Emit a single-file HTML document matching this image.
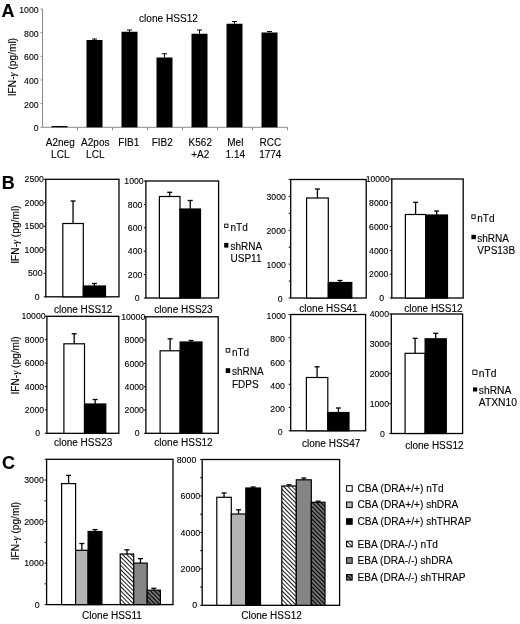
<!DOCTYPE html>
<html><head><meta charset="utf-8"><style>
html,body{margin:0;padding:0;background:#fff;width:520px;height:624px;overflow:hidden}
svg{display:block;will-change:transform;filter:blur(0.3px)}
text{font-family:"Liberation Sans", sans-serif;stroke:#000;stroke-width:0.12px}
</style></head><body>
<svg width="520" height="624" viewBox="0 0 520 624" font-family='"Liberation Sans", sans-serif'><defs>
<pattern id="hw" patternUnits="userSpaceOnUse" width="3" height="3" patternTransform="rotate(-45)">
<rect width="3" height="3" fill="#fff"/><rect width="0.9" height="3" fill="#000"/></pattern>
<pattern id="hd" patternUnits="userSpaceOnUse" width="3" height="3" patternTransform="rotate(-45)">
<rect width="3" height="3" fill="#707070"/><rect width="1" height="3" fill="#000"/></pattern>
</defs><text x="1.6" y="16.5" font-size="18" text-anchor="start" font-weight="bold" fill="#000">A</text>
<line x1="42.5" y1="9.0" x2="42.5" y2="127.3" stroke="#8a8a8a" stroke-width="1"/>
<line x1="42.5" y1="127.3" x2="287.5" y2="127.3" stroke="#8a8a8a" stroke-width="1"/>
<line x1="40.5" y1="127.3" x2="42.5" y2="127.3" stroke="#8a8a8a" stroke-width="1"/>
<text x="38.6" y="131.2" font-size="8.7" text-anchor="end" font-weight="normal" fill="#000">0</text>
<line x1="40.5" y1="103.64" x2="42.5" y2="103.64" stroke="#8a8a8a" stroke-width="1"/>
<text x="38.6" y="107.54" font-size="8.7" text-anchor="end" font-weight="normal" fill="#000">200</text>
<line x1="40.5" y1="79.97999999999999" x2="42.5" y2="79.97999999999999" stroke="#8a8a8a" stroke-width="1"/>
<text x="38.6" y="83.88" font-size="8.7" text-anchor="end" font-weight="normal" fill="#000">400</text>
<line x1="40.5" y1="56.31999999999999" x2="42.5" y2="56.31999999999999" stroke="#8a8a8a" stroke-width="1"/>
<text x="38.6" y="60.21999999999999" font-size="8.7" text-anchor="end" font-weight="normal" fill="#000">600</text>
<line x1="40.5" y1="32.66" x2="42.5" y2="32.66" stroke="#8a8a8a" stroke-width="1"/>
<text x="38.6" y="36.559999999999995" font-size="8.7" text-anchor="end" font-weight="normal" fill="#000">800</text>
<line x1="40.5" y1="9.0" x2="42.5" y2="9.0" stroke="#8a8a8a" stroke-width="1"/>
<text x="38.6" y="12.9" font-size="8.7" text-anchor="end" font-weight="normal" fill="#000">1000</text>
<line x1="77.5" y1="127.3" x2="77.5" y2="130.3" stroke="#8a8a8a" stroke-width="1"/>
<line x1="112.5" y1="127.3" x2="112.5" y2="130.3" stroke="#8a8a8a" stroke-width="1"/>
<line x1="147.5" y1="127.3" x2="147.5" y2="130.3" stroke="#8a8a8a" stroke-width="1"/>
<line x1="182.5" y1="127.3" x2="182.5" y2="130.3" stroke="#8a8a8a" stroke-width="1"/>
<line x1="217.5" y1="127.3" x2="217.5" y2="130.3" stroke="#8a8a8a" stroke-width="1"/>
<line x1="252.5" y1="127.3" x2="252.5" y2="130.3" stroke="#8a8a8a" stroke-width="1"/>
<line x1="287.5" y1="127.3" x2="287.5" y2="130.3" stroke="#8a8a8a" stroke-width="1"/>
<rect x="51.5" y="126.0" width="16" height="1.2999999999999972" fill="#000" stroke="none" stroke-width="1.0" />
<line x1="94.5" y1="39.0" x2="94.5" y2="40.0" stroke="#000" stroke-width="1"/>
<line x1="92.0" y1="39.0" x2="97.0" y2="39.0" stroke="#000" stroke-width="1"/>
<rect x="86.5" y="40.0" width="16" height="87.3" fill="#000" stroke="none" stroke-width="1.0" />
<line x1="129.5" y1="30.0" x2="129.5" y2="31.75" stroke="#000" stroke-width="1"/>
<line x1="127.0" y1="30.0" x2="132.0" y2="30.0" stroke="#000" stroke-width="1"/>
<rect x="121.5" y="31.75" width="16" height="95.55" fill="#000" stroke="none" stroke-width="1.0" />
<line x1="164.5" y1="53.75" x2="164.5" y2="57.5" stroke="#000" stroke-width="1"/>
<line x1="162.0" y1="53.75" x2="167.0" y2="53.75" stroke="#000" stroke-width="1"/>
<rect x="156.5" y="57.5" width="16" height="69.8" fill="#000" stroke="none" stroke-width="1.0" />
<line x1="199.5" y1="30.0" x2="199.5" y2="33.75" stroke="#000" stroke-width="1"/>
<line x1="197.0" y1="30.0" x2="202.0" y2="30.0" stroke="#000" stroke-width="1"/>
<rect x="191.5" y="33.75" width="16" height="93.55" fill="#000" stroke="none" stroke-width="1.0" />
<line x1="234.5" y1="21.5" x2="234.5" y2="23.75" stroke="#000" stroke-width="1"/>
<line x1="232.0" y1="21.5" x2="237.0" y2="21.5" stroke="#000" stroke-width="1"/>
<rect x="226.5" y="23.75" width="16" height="103.55" fill="#000" stroke="none" stroke-width="1.0" />
<line x1="269.5" y1="31.5" x2="269.5" y2="32.5" stroke="#000" stroke-width="1"/>
<line x1="267.0" y1="31.5" x2="272.0" y2="31.5" stroke="#000" stroke-width="1"/>
<rect x="261.5" y="32.5" width="16" height="94.8" fill="#000" stroke="none" stroke-width="1.0" />
<text x="168.5" y="22.1" font-size="10.1" text-anchor="middle" font-weight="normal" fill="#000">clone HSS12</text>
<text x="60.3" y="145.7" font-size="10" text-anchor="middle" font-weight="normal" fill="#000">A2neg</text>
<text x="60.3" y="158.0" font-size="10" text-anchor="middle" font-weight="normal" fill="#000">LCL</text>
<text x="95.3" y="145.7" font-size="10" text-anchor="middle" font-weight="normal" fill="#000">A2pos</text>
<text x="95.3" y="158.0" font-size="10" text-anchor="middle" font-weight="normal" fill="#000">LCL</text>
<text x="128.8" y="145.7" font-size="10" text-anchor="middle" font-weight="normal" fill="#000">FIB1</text>
<text x="162.3" y="145.7" font-size="10" text-anchor="middle" font-weight="normal" fill="#000">FIB2</text>
<text x="200.3" y="145.7" font-size="10" text-anchor="middle" font-weight="normal" fill="#000">K562</text>
<text x="200.3" y="158.0" font-size="10" text-anchor="middle" font-weight="normal" fill="#000">+A2</text>
<text x="235.3" y="145.7" font-size="10" text-anchor="middle" font-weight="normal" fill="#000">Mel</text>
<text x="235.3" y="158.0" font-size="10" text-anchor="middle" font-weight="normal" fill="#000">1.14</text>
<text x="270.3" y="145.7" font-size="10" text-anchor="middle" font-weight="normal" fill="#000">RCC</text>
<text x="270.3" y="158.0" font-size="10" text-anchor="middle" font-weight="normal" fill="#000">1774</text>
<text x="15.771999999999998" y="67.05" font-size="10.2" text-anchor="middle" font-weight="normal" fill="#000" transform="rotate(-90 15.771999999999998 67.05)">IFN-<tspan font-family="Liberation Serif" font-style="italic">&#947;</tspan> (pg/ml)</text>
<text x="1.8" y="188.8" font-size="18" text-anchor="start" font-weight="bold" fill="#000">B</text>
<rect x="45.8" y="179.3" width="73.2" height="117.5" fill="none" stroke="#000" stroke-width="1.3" />
<line x1="43.8" y1="296.8" x2="45.8" y2="296.8" stroke="#000" stroke-width="1"/>
<line x1="43.8" y1="273.3" x2="45.8" y2="273.3" stroke="#000" stroke-width="1"/>
<line x1="43.8" y1="249.8" x2="45.8" y2="249.8" stroke="#000" stroke-width="1"/>
<line x1="43.8" y1="226.3" x2="45.8" y2="226.3" stroke="#000" stroke-width="1"/>
<line x1="43.8" y1="202.8" x2="45.8" y2="202.8" stroke="#000" stroke-width="1"/>
<line x1="43.8" y1="179.3" x2="45.8" y2="179.3" stroke="#000" stroke-width="1"/>
<text x="39.7" y="299.932" font-size="8.7" text-anchor="end" font-weight="normal" fill="#000">0</text>
<text x="42.5" y="276.432" font-size="8.7" text-anchor="end" font-weight="normal" fill="#000">500</text>
<text x="43.9" y="252.93200000000002" font-size="8.7" text-anchor="end" font-weight="normal" fill="#000">1000</text>
<text x="43.9" y="229.43200000000002" font-size="8.7" text-anchor="end" font-weight="normal" fill="#000">1500</text>
<text x="43.9" y="205.93200000000002" font-size="8.7" text-anchor="end" font-weight="normal" fill="#000">2000</text>
<text x="43.9" y="182.43200000000002" font-size="8.7" text-anchor="end" font-weight="normal" fill="#000">2500</text>
<line x1="73.05" y1="201.0" x2="73.05" y2="223.5" stroke="#000" stroke-width="1.3"/>
<line x1="70.55" y1="201.0" x2="75.55" y2="201.0" stroke="#000" stroke-width="1.3"/>
<rect x="62.8" y="223.5" width="20.5" height="73.30000000000001" fill="#fff" stroke="#000" stroke-width="1.2" />
<line x1="94.4" y1="283.5" x2="94.4" y2="286.0" stroke="#000" stroke-width="1.3"/>
<line x1="91.9" y1="283.5" x2="96.9" y2="283.5" stroke="#000" stroke-width="1.3"/>
<rect x="83.3" y="286.0" width="22.200000000000003" height="10.800000000000011" fill="#000" stroke="#000" stroke-width="1.2" />
<text x="83.1" y="312.5" font-size="10" text-anchor="middle" font-weight="normal" fill="#000">clone HSS12</text>
<rect x="145.9" y="181.0" width="72.69999999999999" height="117.0" fill="none" stroke="#000" stroke-width="1.3" />
<line x1="143.9" y1="298.0" x2="145.9" y2="298.0" stroke="#000" stroke-width="1"/>
<line x1="143.9" y1="274.6" x2="145.9" y2="274.6" stroke="#000" stroke-width="1"/>
<line x1="143.9" y1="251.2" x2="145.9" y2="251.2" stroke="#000" stroke-width="1"/>
<line x1="143.9" y1="227.8" x2="145.9" y2="227.8" stroke="#000" stroke-width="1"/>
<line x1="143.9" y1="204.4" x2="145.9" y2="204.4" stroke="#000" stroke-width="1"/>
<line x1="143.9" y1="181.0" x2="145.9" y2="181.0" stroke="#000" stroke-width="1"/>
<text x="139.5" y="301.132" font-size="8.7" text-anchor="end" font-weight="normal" fill="#000">0</text>
<text x="142.29999999999998" y="277.732" font-size="8.7" text-anchor="end" font-weight="normal" fill="#000">200</text>
<text x="142.29999999999998" y="254.332" font-size="8.7" text-anchor="end" font-weight="normal" fill="#000">400</text>
<text x="142.29999999999998" y="230.93200000000002" font-size="8.7" text-anchor="end" font-weight="normal" fill="#000">600</text>
<text x="142.29999999999998" y="207.532" font-size="8.7" text-anchor="end" font-weight="normal" fill="#000">800</text>
<text x="143.7" y="184.132" font-size="8.7" text-anchor="end" font-weight="normal" fill="#000">1000</text>
<line x1="169.7" y1="192.3" x2="169.7" y2="196.5" stroke="#000" stroke-width="1.3"/>
<line x1="167.2" y1="192.3" x2="172.2" y2="192.3" stroke="#000" stroke-width="1.3"/>
<rect x="159.4" y="196.5" width="20.599999999999994" height="101.5" fill="#fff" stroke="#000" stroke-width="1.2" />
<line x1="190.25" y1="200.5" x2="190.25" y2="209.0" stroke="#000" stroke-width="1.3"/>
<line x1="187.75" y1="200.5" x2="192.75" y2="200.5" stroke="#000" stroke-width="1.3"/>
<rect x="180.0" y="209.0" width="20.5" height="89.0" fill="#000" stroke="#000" stroke-width="1.2" />
<text x="183.5" y="312.5" font-size="10" text-anchor="middle" font-weight="normal" fill="#000">clone HSS23</text>
<rect x="290.7" y="179.5" width="75.5" height="118.5" fill="none" stroke="#000" stroke-width="1.3" />
<line x1="288.7" y1="298.0" x2="290.7" y2="298.0" stroke="#000" stroke-width="1"/>
<line x1="288.7" y1="281.07142857142856" x2="290.7" y2="281.07142857142856" stroke="#000" stroke-width="1"/>
<line x1="288.7" y1="264.14285714285717" x2="290.7" y2="264.14285714285717" stroke="#000" stroke-width="1"/>
<line x1="288.7" y1="247.21428571428572" x2="290.7" y2="247.21428571428572" stroke="#000" stroke-width="1"/>
<line x1="288.7" y1="230.28571428571428" x2="290.7" y2="230.28571428571428" stroke="#000" stroke-width="1"/>
<line x1="288.7" y1="213.35714285714286" x2="290.7" y2="213.35714285714286" stroke="#000" stroke-width="1"/>
<line x1="288.7" y1="196.42857142857144" x2="290.7" y2="196.42857142857144" stroke="#000" stroke-width="1"/>
<line x1="288.7" y1="179.5" x2="290.7" y2="179.5" stroke="#000" stroke-width="1"/>
<text x="282.5" y="301.932" font-size="8.7" text-anchor="end" font-weight="normal" fill="#000">0</text>
<text x="285.8" y="268.0748571428572" font-size="8.7" text-anchor="end" font-weight="normal" fill="#000">1000</text>
<text x="285.8" y="234.2177142857143" font-size="8.7" text-anchor="end" font-weight="normal" fill="#000">2000</text>
<text x="285.8" y="200.36057142857146" font-size="8.7" text-anchor="end" font-weight="normal" fill="#000">3000</text>
<line x1="317.45000000000005" y1="189.0" x2="317.45000000000005" y2="198.0" stroke="#000" stroke-width="1.3"/>
<line x1="314.95000000000005" y1="189.0" x2="319.95000000000005" y2="189.0" stroke="#000" stroke-width="1.3"/>
<rect x="306.6" y="198.0" width="21.69999999999999" height="100.0" fill="#fff" stroke="#000" stroke-width="1.2" />
<line x1="340.05" y1="280.5" x2="340.05" y2="282.5" stroke="#000" stroke-width="1.3"/>
<line x1="337.55" y1="280.5" x2="342.55" y2="280.5" stroke="#000" stroke-width="1.3"/>
<rect x="328.3" y="282.5" width="23.5" height="15.5" fill="#000" stroke="#000" stroke-width="1.2" />
<text x="328.5" y="311.6" font-size="10" text-anchor="middle" font-weight="normal" fill="#000">clone HSS41</text>
<rect x="391.8" y="179.0" width="71.39999999999998" height="119.0" fill="none" stroke="#000" stroke-width="1.3" />
<line x1="389.8" y1="298.0" x2="391.8" y2="298.0" stroke="#000" stroke-width="1"/>
<line x1="389.8" y1="274.2" x2="391.8" y2="274.2" stroke="#000" stroke-width="1"/>
<line x1="389.8" y1="250.4" x2="391.8" y2="250.4" stroke="#000" stroke-width="1"/>
<line x1="389.8" y1="226.6" x2="391.8" y2="226.6" stroke="#000" stroke-width="1"/>
<line x1="389.8" y1="202.8" x2="391.8" y2="202.8" stroke="#000" stroke-width="1"/>
<line x1="389.8" y1="179.0" x2="391.8" y2="179.0" stroke="#000" stroke-width="1"/>
<text x="384.2" y="301.132" font-size="8.7" text-anchor="end" font-weight="normal" fill="#000">0</text>
<text x="388.40000000000003" y="277.332" font-size="8.7" text-anchor="end" font-weight="normal" fill="#000">2000</text>
<text x="388.40000000000003" y="253.532" font-size="8.7" text-anchor="end" font-weight="normal" fill="#000">4000</text>
<text x="388.40000000000003" y="229.732" font-size="8.7" text-anchor="end" font-weight="normal" fill="#000">6000</text>
<text x="388.40000000000003" y="205.93200000000002" font-size="8.7" text-anchor="end" font-weight="normal" fill="#000">8000</text>
<text x="389.8" y="182.132" font-size="8.7" text-anchor="end" font-weight="normal" fill="#000">10000</text>
<line x1="415.6" y1="202.3" x2="415.6" y2="214.5" stroke="#000" stroke-width="1.3"/>
<line x1="413.1" y1="202.3" x2="418.1" y2="202.3" stroke="#000" stroke-width="1.3"/>
<rect x="405.4" y="214.5" width="20.400000000000034" height="83.5" fill="#fff" stroke="#000" stroke-width="1.2" />
<line x1="436.65" y1="211.0" x2="436.65" y2="215.0" stroke="#000" stroke-width="1.3"/>
<line x1="434.15" y1="211.0" x2="439.15" y2="211.0" stroke="#000" stroke-width="1.3"/>
<rect x="425.8" y="215.0" width="21.69999999999999" height="83.0" fill="#000" stroke="#000" stroke-width="1.2" />
<text x="433.4" y="311.6" font-size="10" text-anchor="middle" font-weight="normal" fill="#000">clone HSS12</text>
<rect x="46.9" y="316.3" width="71.9" height="117.0" fill="none" stroke="#000" stroke-width="1.3" />
<line x1="44.9" y1="433.3" x2="46.9" y2="433.3" stroke="#000" stroke-width="1"/>
<line x1="44.9" y1="409.90000000000003" x2="46.9" y2="409.90000000000003" stroke="#000" stroke-width="1"/>
<line x1="44.9" y1="386.5" x2="46.9" y2="386.5" stroke="#000" stroke-width="1"/>
<line x1="44.9" y1="363.1" x2="46.9" y2="363.1" stroke="#000" stroke-width="1"/>
<line x1="44.9" y1="339.70000000000005" x2="46.9" y2="339.70000000000005" stroke="#000" stroke-width="1"/>
<line x1="44.9" y1="316.3" x2="46.9" y2="316.3" stroke="#000" stroke-width="1"/>
<text x="40.0" y="436.432" font-size="8.7" text-anchor="end" font-weight="normal" fill="#000">0</text>
<text x="44.2" y="413.03200000000004" font-size="8.7" text-anchor="end" font-weight="normal" fill="#000">2000</text>
<text x="44.2" y="389.632" font-size="8.7" text-anchor="end" font-weight="normal" fill="#000">4000</text>
<text x="44.2" y="366.232" font-size="8.7" text-anchor="end" font-weight="normal" fill="#000">6000</text>
<text x="44.2" y="342.83200000000005" font-size="8.7" text-anchor="end" font-weight="normal" fill="#000">8000</text>
<text x="45.6" y="319.432" font-size="8.7" text-anchor="end" font-weight="normal" fill="#000">10000</text>
<line x1="74.2" y1="333.8" x2="74.2" y2="343.8" stroke="#000" stroke-width="1.3"/>
<line x1="71.7" y1="333.8" x2="76.7" y2="333.8" stroke="#000" stroke-width="1.3"/>
<rect x="63.9" y="343.8" width="20.6" height="89.5" fill="#fff" stroke="#000" stroke-width="1.2" />
<line x1="95.15" y1="399.5" x2="95.15" y2="404.0" stroke="#000" stroke-width="1.3"/>
<line x1="92.65" y1="399.5" x2="97.65" y2="399.5" stroke="#000" stroke-width="1.3"/>
<rect x="84.5" y="404.0" width="21.299999999999997" height="29.30000000000001" fill="#000" stroke="#000" stroke-width="1.2" />
<text x="83.1" y="446.0" font-size="10" text-anchor="middle" font-weight="normal" fill="#000">clone HSS23</text>
<rect x="145.9" y="316.8" width="72.29999999999998" height="116.5" fill="none" stroke="#000" stroke-width="1.3" />
<line x1="143.9" y1="433.3" x2="145.9" y2="433.3" stroke="#000" stroke-width="1"/>
<line x1="143.9" y1="410.0" x2="145.9" y2="410.0" stroke="#000" stroke-width="1"/>
<line x1="143.9" y1="386.7" x2="145.9" y2="386.7" stroke="#000" stroke-width="1"/>
<line x1="143.9" y1="363.4" x2="145.9" y2="363.4" stroke="#000" stroke-width="1"/>
<line x1="143.9" y1="340.1" x2="145.9" y2="340.1" stroke="#000" stroke-width="1"/>
<line x1="143.9" y1="316.8" x2="145.9" y2="316.8" stroke="#000" stroke-width="1"/>
<text x="139.70000000000002" y="436.432" font-size="8.7" text-anchor="end" font-weight="normal" fill="#000">0</text>
<text x="143.9" y="413.132" font-size="8.7" text-anchor="end" font-weight="normal" fill="#000">2000</text>
<text x="143.9" y="389.832" font-size="8.7" text-anchor="end" font-weight="normal" fill="#000">4000</text>
<text x="143.9" y="366.532" font-size="8.7" text-anchor="end" font-weight="normal" fill="#000">6000</text>
<text x="143.9" y="343.232" font-size="8.7" text-anchor="end" font-weight="normal" fill="#000">8000</text>
<text x="145.3" y="319.932" font-size="8.7" text-anchor="end" font-weight="normal" fill="#000">10000</text>
<line x1="170.1" y1="338.8" x2="170.1" y2="350.8" stroke="#000" stroke-width="1.3"/>
<line x1="167.6" y1="338.8" x2="172.6" y2="338.8" stroke="#000" stroke-width="1.3"/>
<rect x="160.1" y="350.8" width="20.0" height="82.5" fill="#fff" stroke="#000" stroke-width="1.2" />
<line x1="191.05" y1="340.5" x2="191.05" y2="342.0" stroke="#000" stroke-width="1.3"/>
<line x1="188.55" y1="340.5" x2="193.55" y2="340.5" stroke="#000" stroke-width="1.3"/>
<rect x="180.1" y="342.0" width="21.900000000000006" height="91.30000000000001" fill="#000" stroke="#000" stroke-width="1.2" />
<text x="183.5" y="446.0" font-size="10" text-anchor="middle" font-weight="normal" fill="#000">clone HSS12</text>
<rect x="290.7" y="314.5" width="74.90000000000003" height="116.30000000000001" fill="none" stroke="#000" stroke-width="1.3" />
<line x1="288.7" y1="430.8" x2="290.7" y2="430.8" stroke="#000" stroke-width="1"/>
<line x1="288.7" y1="407.54" x2="290.7" y2="407.54" stroke="#000" stroke-width="1"/>
<line x1="288.7" y1="384.28" x2="290.7" y2="384.28" stroke="#000" stroke-width="1"/>
<line x1="288.7" y1="361.02" x2="290.7" y2="361.02" stroke="#000" stroke-width="1"/>
<line x1="288.7" y1="337.76" x2="290.7" y2="337.76" stroke="#000" stroke-width="1"/>
<line x1="288.7" y1="314.5" x2="290.7" y2="314.5" stroke="#000" stroke-width="1"/>
<text x="282.59999999999997" y="435.432" font-size="8.7" text-anchor="end" font-weight="normal" fill="#000">0</text>
<text x="284.79999999999995" y="412.172" font-size="8.7" text-anchor="end" font-weight="normal" fill="#000">200</text>
<text x="284.79999999999995" y="388.912" font-size="8.7" text-anchor="end" font-weight="normal" fill="#000">400</text>
<text x="284.79999999999995" y="365.652" font-size="8.7" text-anchor="end" font-weight="normal" fill="#000">600</text>
<text x="284.79999999999995" y="342.392" font-size="8.7" text-anchor="end" font-weight="normal" fill="#000">800</text>
<text x="285.9" y="319.132" font-size="8.7" text-anchor="end" font-weight="normal" fill="#000">1000</text>
<line x1="317.1" y1="366.8" x2="317.1" y2="377.5" stroke="#000" stroke-width="1.3"/>
<line x1="314.6" y1="366.8" x2="319.6" y2="366.8" stroke="#000" stroke-width="1.3"/>
<rect x="306.4" y="377.5" width="21.400000000000034" height="53.30000000000001" fill="#fff" stroke="#000" stroke-width="1.2" />
<line x1="338.4" y1="408.0" x2="338.4" y2="412.5" stroke="#000" stroke-width="1.3"/>
<line x1="335.9" y1="408.0" x2="340.9" y2="408.0" stroke="#000" stroke-width="1.3"/>
<rect x="327.8" y="412.5" width="21.19999999999999" height="18.30000000000001" fill="#000" stroke="#000" stroke-width="1.2" />
<text x="331.2" y="447.3" font-size="10" text-anchor="middle" font-weight="normal" fill="#000">clone HSS47</text>
<rect x="391.3" y="314.0" width="71.30000000000001" height="119.5" fill="none" stroke="#000" stroke-width="1.3" />
<line x1="389.3" y1="433.5" x2="391.3" y2="433.5" stroke="#000" stroke-width="1"/>
<line x1="389.3" y1="403.625" x2="391.3" y2="403.625" stroke="#000" stroke-width="1"/>
<line x1="389.3" y1="373.75" x2="391.3" y2="373.75" stroke="#000" stroke-width="1"/>
<line x1="389.3" y1="343.875" x2="391.3" y2="343.875" stroke="#000" stroke-width="1"/>
<line x1="389.3" y1="314.0" x2="391.3" y2="314.0" stroke="#000" stroke-width="1"/>
<text x="384.8" y="436.632" font-size="8.7" text-anchor="end" font-weight="normal" fill="#000">0</text>
<text x="389.0" y="406.757" font-size="8.7" text-anchor="end" font-weight="normal" fill="#000">1000</text>
<text x="389.0" y="376.882" font-size="8.7" text-anchor="end" font-weight="normal" fill="#000">2000</text>
<text x="389.0" y="347.007" font-size="8.7" text-anchor="end" font-weight="normal" fill="#000">3000</text>
<text x="389.0" y="317.132" font-size="8.7" text-anchor="end" font-weight="normal" fill="#000">4000</text>
<line x1="415.1" y1="338.3" x2="415.1" y2="353.3" stroke="#000" stroke-width="1.3"/>
<line x1="412.6" y1="338.3" x2="417.6" y2="338.3" stroke="#000" stroke-width="1.3"/>
<rect x="405.1" y="353.3" width="20.0" height="80.19999999999999" fill="#fff" stroke="#000" stroke-width="1.2" />
<line x1="435.70000000000005" y1="333.3" x2="435.70000000000005" y2="338.8" stroke="#000" stroke-width="1.3"/>
<line x1="433.20000000000005" y1="333.3" x2="438.20000000000005" y2="333.3" stroke="#000" stroke-width="1.3"/>
<rect x="425.1" y="338.8" width="21.19999999999999" height="94.69999999999999" fill="#000" stroke="#000" stroke-width="1.2" />
<text x="434.4" y="448.5" font-size="10" text-anchor="middle" font-weight="normal" fill="#000">clone HSS12</text>
<rect x="224.64999999999998" y="224.14999999999998" width="3.300000000000017" height="3.300000000000017" fill="#fff" stroke="#000" stroke-width="0.9" />
<text x="230.5" y="230.7" font-size="10" text-anchor="start" font-weight="normal" fill="#000">nTd</text>
<rect x="224.2" y="242.9" width="4.200000000000017" height="4.699999999999989" fill="#000" stroke="none" stroke-width="1.0" />
<text x="230.5" y="250.2" font-size="10" text-anchor="start" font-weight="normal" fill="#000">shRNA</text>
<text x="230.5" y="262.4" font-size="10" text-anchor="start" font-weight="normal" fill="#000">USP11</text>
<rect x="471.84999999999997" y="214.85" width="3.3000000000000456" height="3.6" fill="#fff" stroke="#000" stroke-width="0.9" />
<text x="477.3" y="221.5" font-size="10" text-anchor="start" font-weight="normal" fill="#000">nTd</text>
<rect x="471.4" y="234.8" width="4.5" height="4.399999999999977" fill="#000" stroke="none" stroke-width="1.0" />
<text x="477.3" y="242.3" font-size="10" text-anchor="start" font-weight="normal" fill="#000">shRNA</text>
<text x="477.3" y="254.2" font-size="10" text-anchor="start" font-weight="normal" fill="#000">VPS13B</text>
<rect x="226.14999999999998" y="348.65" width="3.6" height="3.500000000000034" fill="#fff" stroke="#000" stroke-width="0.9" />
<text x="231.9" y="355.5" font-size="10" text-anchor="start" font-weight="normal" fill="#000">nTd</text>
<rect x="225.7" y="368.2" width="4.5" height="4.800000000000011" fill="#000" stroke="none" stroke-width="1.0" />
<text x="231.9" y="374.7" font-size="10" text-anchor="start" font-weight="normal" fill="#000">shRNA</text>
<text x="231.9" y="387.7" font-size="10" text-anchor="start" font-weight="normal" fill="#000">FDPS</text>
<rect x="472.84999999999997" y="370.15" width="4.1" height="4.299999999999988" fill="#fff" stroke="#000" stroke-width="0.9" />
<text x="478.8" y="376.7" font-size="10.3" text-anchor="start" font-weight="normal" fill="#000">nTd</text>
<rect x="473.0" y="387.4" width="4.199999999999989" height="4.100000000000023" fill="#000" stroke="none" stroke-width="1.0" />
<text x="478.8" y="393.6" font-size="10.3" text-anchor="start" font-weight="normal" fill="#000">shRNA</text>
<text x="478.8" y="406.0" font-size="10.3" text-anchor="start" font-weight="normal" fill="#000">ATXN10</text>
<text x="18.972" y="234.6" font-size="10.2" text-anchor="middle" font-weight="normal" fill="#000" transform="rotate(-90 18.972 234.6)">IFN-<tspan font-family="Liberation Serif" font-style="italic">&#947;</tspan> (pg/ml)</text>
<text x="18.972" y="365.4" font-size="10.2" text-anchor="middle" font-weight="normal" fill="#000" transform="rotate(-90 18.972 365.4)">IFN-<tspan font-family="Liberation Serif" font-style="italic">&#947;</tspan> (pg/ml)</text>
<text x="2.0" y="468.5" font-size="18" text-anchor="start" font-weight="bold" fill="#000">C</text>
<text x="18.572" y="531.1" font-size="10.2" text-anchor="middle" font-weight="normal" fill="#000" transform="rotate(-90 18.572 531.1)">IFN-<tspan font-family="Liberation Serif" font-style="italic">&#947;</tspan> (pg/ml)</text>
<rect x="46.6" y="459.3" width="126.4" height="145.3" fill="none" stroke="#000" stroke-width="1.3" />
<line x1="44.6" y1="604.6" x2="46.6" y2="604.6" stroke="#000" stroke-width="1"/>
<line x1="44.6" y1="583.8428571428572" x2="46.6" y2="583.8428571428572" stroke="#000" stroke-width="1"/>
<line x1="44.6" y1="563.0857142857143" x2="46.6" y2="563.0857142857143" stroke="#000" stroke-width="1"/>
<line x1="44.6" y1="542.3285714285714" x2="46.6" y2="542.3285714285714" stroke="#000" stroke-width="1"/>
<line x1="44.6" y1="521.5714285714286" x2="46.6" y2="521.5714285714286" stroke="#000" stroke-width="1"/>
<line x1="44.6" y1="500.81428571428575" x2="46.6" y2="500.81428571428575" stroke="#000" stroke-width="1"/>
<line x1="44.6" y1="480.0571428571429" x2="46.6" y2="480.0571428571429" stroke="#000" stroke-width="1"/>
<line x1="44.6" y1="459.3" x2="46.6" y2="459.3" stroke="#000" stroke-width="1"/>
<text x="39.599999999999994" y="607.768" font-size="8.8" text-anchor="end" font-weight="normal" fill="#000">0</text>
<text x="43.8" y="566.2537142857143" font-size="8.8" text-anchor="end" font-weight="normal" fill="#000">1000</text>
<text x="43.8" y="524.7394285714286" font-size="8.8" text-anchor="end" font-weight="normal" fill="#000">2000</text>
<text x="43.8" y="483.2251428571429" font-size="8.8" text-anchor="end" font-weight="normal" fill="#000">3000</text>
<line x1="68.6" y1="475.4" x2="68.6" y2="483.6" stroke="#000" stroke-width="1.3"/>
<line x1="66.1" y1="475.4" x2="71.1" y2="475.4" stroke="#000" stroke-width="1.3"/>
<rect x="61.6" y="483.6" width="13.999999999999993" height="121.0" fill="#fff" stroke="#000" stroke-width="1.2" />
<line x1="81.85" y1="543.5" x2="81.85" y2="550.3" stroke="#000" stroke-width="1.3"/>
<line x1="79.35" y1="543.5" x2="84.35" y2="543.5" stroke="#000" stroke-width="1.3"/>
<rect x="75.6" y="550.3" width="12.5" height="54.30000000000007" fill="#b4b4b4" stroke="#000" stroke-width="1.2" />
<line x1="95.0" y1="529.6" x2="95.0" y2="531.5" stroke="#000" stroke-width="1.3"/>
<line x1="92.5" y1="529.6" x2="97.5" y2="529.6" stroke="#000" stroke-width="1.3"/>
<rect x="88.1" y="531.5" width="13.800000000000011" height="73.10000000000002" fill="#000" stroke="#000" stroke-width="1.2" />
<line x1="126.94999999999999" y1="549.8" x2="126.94999999999999" y2="554.0" stroke="#000" stroke-width="1.3"/>
<line x1="124.44999999999999" y1="549.8" x2="129.45" y2="549.8" stroke="#000" stroke-width="1.3"/>
<rect x="120.2" y="554.0" width="13.499999999999986" height="50.60000000000002" fill="url(#hw)" stroke="#000" stroke-width="1.2" />
<line x1="140.45" y1="558.6" x2="140.45" y2="563.1" stroke="#000" stroke-width="1.3"/>
<line x1="137.95" y1="558.6" x2="142.95" y2="558.6" stroke="#000" stroke-width="1.3"/>
<rect x="133.7" y="563.1" width="13.5" height="41.5" fill="#858585" stroke="#000" stroke-width="1.2" />
<line x1="153.8" y1="588.3" x2="153.8" y2="590.2" stroke="#000" stroke-width="1.3"/>
<line x1="151.3" y1="588.3" x2="156.3" y2="588.3" stroke="#000" stroke-width="1.3"/>
<rect x="147.2" y="590.2" width="13.200000000000017" height="14.399999999999977" fill="url(#hd)" stroke="#000" stroke-width="1.2" />
<text x="112.0" y="619.3" font-size="10" text-anchor="middle" font-weight="normal" fill="#000">Clone HSS11</text>
<rect x="202.2" y="459.5" width="137.40000000000003" height="145.79999999999995" fill="none" stroke="#000" stroke-width="1.3" />
<line x1="200.2" y1="605.3" x2="202.2" y2="605.3" stroke="#000" stroke-width="1"/>
<line x1="200.2" y1="587.0749999999999" x2="202.2" y2="587.0749999999999" stroke="#000" stroke-width="1"/>
<line x1="200.2" y1="568.8499999999999" x2="202.2" y2="568.8499999999999" stroke="#000" stroke-width="1"/>
<line x1="200.2" y1="550.625" x2="202.2" y2="550.625" stroke="#000" stroke-width="1"/>
<line x1="200.2" y1="532.4" x2="202.2" y2="532.4" stroke="#000" stroke-width="1"/>
<line x1="200.2" y1="514.175" x2="202.2" y2="514.175" stroke="#000" stroke-width="1"/>
<line x1="200.2" y1="495.95" x2="202.2" y2="495.95" stroke="#000" stroke-width="1"/>
<line x1="200.2" y1="477.725" x2="202.2" y2="477.725" stroke="#000" stroke-width="1"/>
<line x1="200.2" y1="459.5" x2="202.2" y2="459.5" stroke="#000" stroke-width="1"/>
<text x="197.2" y="608.468" font-size="8.8" text-anchor="end" font-weight="normal" fill="#000">0</text>
<text x="200.2" y="572.0179999999999" font-size="8.8" text-anchor="end" font-weight="normal" fill="#000">2000</text>
<text x="200.2" y="535.568" font-size="8.8" text-anchor="end" font-weight="normal" fill="#000">4000</text>
<text x="200.2" y="499.118" font-size="8.8" text-anchor="end" font-weight="normal" fill="#000">6000</text>
<text x="196.3" y="462.668" font-size="8.8" text-anchor="end" font-weight="normal" fill="#000">8000</text>
<line x1="224.05" y1="493.0" x2="224.05" y2="497.3" stroke="#000" stroke-width="1.3"/>
<line x1="221.55" y1="493.0" x2="226.55" y2="493.0" stroke="#000" stroke-width="1.3"/>
<rect x="216.8" y="497.3" width="14.5" height="107.99999999999994" fill="#fff" stroke="#000" stroke-width="1.2" />
<line x1="238.55" y1="509.8" x2="238.55" y2="514.0" stroke="#000" stroke-width="1.3"/>
<line x1="236.05" y1="509.8" x2="241.05" y2="509.8" stroke="#000" stroke-width="1.3"/>
<rect x="231.3" y="514.0" width="14.5" height="91.29999999999995" fill="#b4b4b4" stroke="#000" stroke-width="1.2" />
<line x1="253.15" y1="487.0" x2="253.15" y2="488.0" stroke="#000" stroke-width="1.3"/>
<line x1="250.65" y1="487.0" x2="255.65" y2="487.0" stroke="#000" stroke-width="1.3"/>
<rect x="245.8" y="488.0" width="14.699999999999989" height="117.29999999999995" fill="#000" stroke="#000" stroke-width="1.2" />
<line x1="289.05" y1="484.8" x2="289.05" y2="486.0" stroke="#000" stroke-width="1.3"/>
<line x1="286.55" y1="484.8" x2="291.55" y2="484.8" stroke="#000" stroke-width="1.3"/>
<rect x="281.8" y="486.0" width="14.5" height="119.29999999999995" fill="url(#hw)" stroke="#000" stroke-width="1.2" />
<line x1="303.8" y1="478.0" x2="303.8" y2="479.8" stroke="#000" stroke-width="1.3"/>
<line x1="301.3" y1="478.0" x2="306.3" y2="478.0" stroke="#000" stroke-width="1.3"/>
<rect x="296.3" y="479.8" width="15.0" height="125.49999999999994" fill="#858585" stroke="#000" stroke-width="1.2" />
<line x1="318.15" y1="501.2" x2="318.15" y2="502.3" stroke="#000" stroke-width="1.3"/>
<line x1="315.65" y1="501.2" x2="320.65" y2="501.2" stroke="#000" stroke-width="1.3"/>
<rect x="311.3" y="502.3" width="13.699999999999989" height="102.99999999999994" fill="url(#hd)" stroke="#000" stroke-width="1.2" />
<text x="271.5" y="619.3" font-size="10" text-anchor="middle" font-weight="normal" fill="#000">Clone HSS12</text>
<rect x="346.6" y="485.7" width="5.6" height="5.6" fill="#fff" stroke="#000" stroke-width="1" />
<text x="357.5" y="492.1" font-size="10.15" text-anchor="start" font-weight="normal" fill="#000">CBA (DRA+/+) nTd</text>
<rect x="346.6" y="502.0" width="5.6" height="5.6" fill="#b4b4b4" stroke="#000" stroke-width="1" />
<text x="357.5" y="508.40000000000003" font-size="10.15" text-anchor="start" font-weight="normal" fill="#000">CBA (DRA+/+) shDRA</text>
<rect x="346.6" y="518.7" width="5.6" height="5.6" fill="#000" stroke="#000" stroke-width="1" />
<text x="357.5" y="525.1" font-size="10.15" text-anchor="start" font-weight="normal" fill="#000">CBA (DRA+/+) shTHRAP</text>
<rect x="346.6" y="541.2" width="5.6" height="5.6" fill="url(#hw)" stroke="#000" stroke-width="1" />
<text x="357.5" y="547.6" font-size="10.15" text-anchor="start" font-weight="normal" fill="#000">EBA (DRA-/-) nTd</text>
<rect x="346.6" y="557.7" width="5.6" height="5.6" fill="#858585" stroke="#000" stroke-width="1" />
<text x="357.5" y="564.1" font-size="10.15" text-anchor="start" font-weight="normal" fill="#000">EBA (DRA-/-) shDRA</text>
<rect x="346.6" y="574.5" width="5.6" height="5.6" fill="url(#hd)" stroke="#000" stroke-width="1" />
<text x="357.5" y="580.9" font-size="10.15" text-anchor="start" font-weight="normal" fill="#000">EBA (DRA-/-) shTHRAP</text></svg>
</body></html>
